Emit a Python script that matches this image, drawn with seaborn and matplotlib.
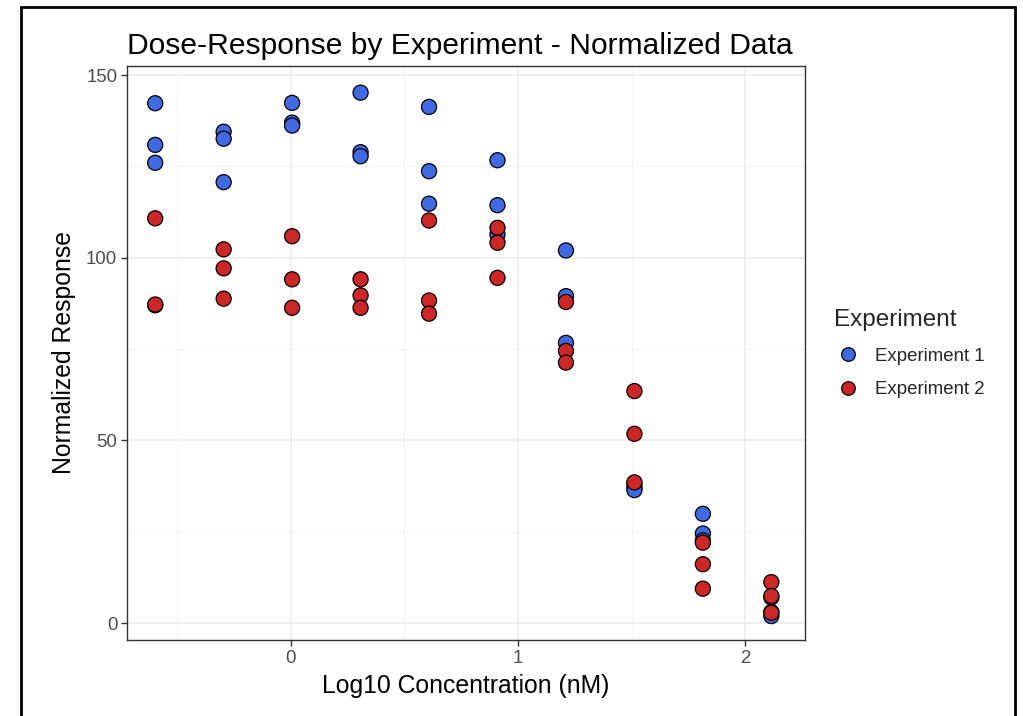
import matplotlib
matplotlib.use("Agg")
import matplotlib.pyplot as plt
from matplotlib.patches import Rectangle
from matplotlib.ticker import MultipleLocator
import seaborn as sns
import pandas as pd

# ---- data ----
log_conc = [-0.595, -0.294, 0.007, 0.308, 0.609, 0.910, 1.211, 1.512, 1.813, 2.114]

exp1_r1 = [142.3, 134.5, 142.4, 145.2, 141.3, 126.7, 102.0, 38.0, 29.9, 7.0]
exp1_r2 = [130.9, 132.6, 137.0, 128.9, 123.7, 114.4, 89.5, 37.1, 24.5, 3.0]
exp1_r3 = [126.0, 120.7, 136.2, 127.8, 114.8, 106.4, 76.7, 36.4, 22.6, 1.9]

exp2_r1 = [110.8, 102.3, 105.9, 94.1, 110.2, 108.2, 87.9, 63.5, 22.0, 11.2]
exp2_r2 = [87.0, 97.1, 94.1, 89.7, 88.3, 104.1, 74.5, 51.8, 16.1, 7.4]
exp2_r3 = [87.2, 88.8, 86.3, 86.3, 84.7, 94.5, 71.3, 38.5, 9.4, 2.8]

experiments = ["Experiment 1", "Experiment 2"]
colors = ["#4169E1", "#CD2626"]

rows = []
for name, reps in zip(experiments, [(exp1_r1, exp1_r2, exp1_r3), (exp2_r1, exp2_r2, exp2_r3)]):
    for rep in reps:
        for x, y in zip(log_conc, rep):
            rows.append({"x": x, "y": y, "Experiment": name})
df = pd.DataFrame(rows)

sns.set_theme(style="white")
plt.rcParams["font.family"] = ["Liberation Sans", "DejaVu Sans"]

fig = plt.figure(figsize=(10.23, 7.16), dpi=100)
ax = fig.add_axes([127 / 1023, 1 - 640 / 716, (805 - 127) / 1023, (640 - 66) / 716])

sns.scatterplot(data=df, x="x", y="y", hue="Experiment", hue_order=experiments,
                palette=colors, s=118, edgecolor="black", linewidth=0.9,
                ax=ax, zorder=3)

ax.set_xlim(-0.719, 2.262)
ax.set_ylim(-4.65, 152.5)
ax.xaxis.set_major_locator(MultipleLocator(1))
ax.xaxis.set_minor_locator(MultipleLocator(0.5))
ax.yaxis.set_major_locator(MultipleLocator(50))
ax.yaxis.set_minor_locator(MultipleLocator(25))
ax.grid(True, which="major", color="#EBEBEB", lw=1.1, zorder=0)
ax.grid(True, which="minor", color="#F2F2F2", lw=0.6, zorder=0)
ax.set_axisbelow(True)
for sp in ax.spines.values():
    sp.set_color("#333333")
    sp.set_linewidth(1.0)
ax.tick_params(axis="both", which="major", length=4, width=1, color="#333333",
               labelsize=13.4, labelcolor="#4D4D4D", pad=3, left=True, bottom=True)
ax.tick_params(axis="both", which="minor", length=0)

ax.set_xlabel("Log10 Concentration (nM)", fontsize=17.8, color="black", labelpad=5)
ax.set_ylabel("Normalized Response", fontsize=17.8, color="black", labelpad=7)
ax.set_title("Dose-Response by Experiment - Normalized Data", fontsize=21.6,
             loc="left", pad=9, color="black")

leg = ax.legend(title="Experiment", loc="upper left",
                bbox_to_anchor=(827 / 1023, 1 - 302 / 716), bbox_transform=fig.transFigure,
                frameon=False, fontsize=13.4, title_fontsize=17.5, markerscale=0.9,
                handlelength=1.5, handletextpad=0.7, labelspacing=0.88, borderaxespad=0)
leg._legend_box.align = "left"
for h in leg.legend_handles:
    try:
        h.set_markeredgecolor("black")
        h.set_markeredgewidth(0.9)
    except AttributeError:
        h.set_edgecolor("black")

fig.patches.append(Rectangle((21 / 1023, -0.05), (1015 - 21) / 1023, 1.05 - 7 / 716,
                             transform=fig.transFigure, fill=False, edgecolor="black",
                             linewidth=2))

fig.savefig("out.png", dpi=100, facecolor="white")
